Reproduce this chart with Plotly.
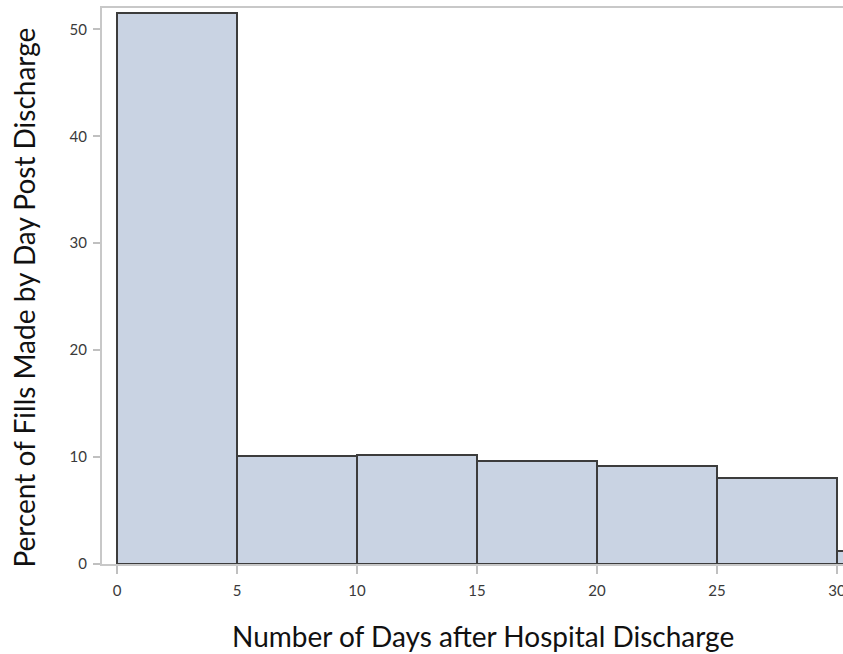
import plotly.graph_objects as go

bin_starts = [0, 5, 10, 15, 20, 25, 30]
percents = [51.5, 10.1, 10.2, 9.6, 9.15, 8.0, 1.2]
bin_width = 5
x_ticks = [0, 5, 10, 15, 20, 25, 30]
y_ticks = [0, 10, 20, 30, 40, 50]
x_title = "Number of Days after Hospital Discharge"
y_title = "Percent of Fills Made by Day Post Discharge"

fig = go.Figure()
fig.add_trace(go.Bar(
    x=bin_starts, y=percents, width=[bin_width] * len(bin_starts), offset=0,
    marker=dict(color="#C9D3E3", line=dict(color="#3C3C3C", width=2)),
    showlegend=False, hoverinfo="skip",
))

font = "Lato, 'Open Sans', sans-serif"
fig.update_layout(
    width=843, height=654,
    margin=dict(l=102, r=0, t=8, b=90),
    plot_bgcolor="white", paper_bgcolor="white",
    bargap=0,
    font=dict(family=font, color="#333333"),
    xaxis=dict(
        range=[-0.625, 30.25], tickvals=x_ticks, ticks="outside", ticklen=8,
        tickcolor="#C0C0C0", tickwidth=1.5, showgrid=False, zeroline=False,
        showline=True, linecolor="#C8C8C8", linewidth=2, mirror=True,
        automargin=False, ticklabeloverflow="allow", ticklabelstandoff=4,
        tickfont=dict(size=15, color="#3A3A3A"),
    ),
    yaxis=dict(
        range=[0, 52], tickvals=y_ticks, ticks="outside", ticklen=7,
        tickcolor="#C0C0C0", tickwidth=1.5, showgrid=False, zeroline=False,
        showline=True, linecolor="#C8C8C8", linewidth=2,
        automargin=False, ticklabelstandoff=3,
        tickfont=dict(size=15, color="#3A3A3A"),
    ),
    annotations=[
        dict(text=x_title, xref="paper", yref="paper", x=0.5142, y=-0.1295,
             xanchor="center", yanchor="middle", showarrow=False,
             font=dict(size=28, color="#111111", family=font)),
        dict(text=y_title, xref="paper", yref="paper", x=-0.1066, y=0.4793,
             xanchor="center", yanchor="middle", showarrow=False, textangle=-90,
             font=dict(size=28, color="#111111", family=font)),
    ],
)
fig.write_html(
    "out.html",
    config={"displayModeBar": False},
    post_script="document.body.style.margin='0';document.body.style.overflow='hidden';",
)
